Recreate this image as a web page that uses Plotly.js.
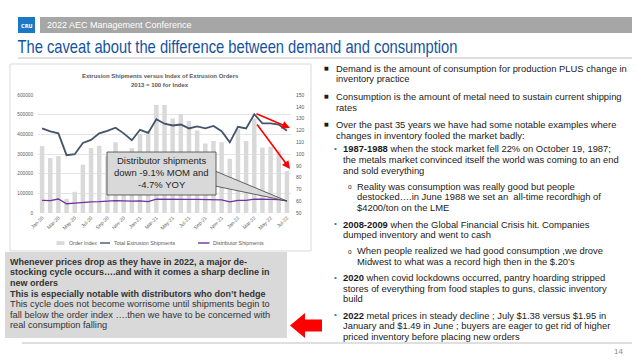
<!DOCTYPE html>
<html><head><meta charset="utf-8">
<script src="https://cdn.plot.ly/plotly-3.0.1.min.js"></script>
<style>html,body{margin:0;padding:0;background:#fff;overflow:hidden}#chart{width:644px;height:362px}</style>
</head><body><div id="chart"></div>
<script>
// ---- data ----
const months = ['Jan-20','Feb-20','Mar-20','Apr-20','May-20','Jun-20','Jul-20','Aug-20','Sep-20','Oct-20','Nov-20','Dec-20',
  'Jan-21','Feb-21','Mar-21','Apr-21','May-21','Jun-21','Jul-21','Aug-21','Sep-21','Oct-21','Nov-21','Dec-21',
  'Jan-22','Feb-22','Mar-22','Apr-22','May-22','Jun-22','Jul-22'];
const orderIndex = [106.7, 96.5, 98.2, 62, 68, 91, 105, 107, 98, 110, 96, 105, 117, 119, 141.5, 141.5, 130, 134, 128, 120, 109, 111, 110, 96, 121, 111, 130, 105.5, 106, 103, 85.5];
const totalShipments = [430000, 415000, 405000, 294000, 299000, 356000, 372000, 405000, 418000, 434000, 405000, 370000, 423000, 407000, 477000, 454000, 445000, 450000, 430000, 440000, 430000, 443000, 416000, 359000, 438000, 430000, 502000, 456000, 456000, 450000, 418000];
const distributorShipments = [64000, 63000, 71000, 47000, 50000, 55000, 57000, 58000, 62000, 63000, 62000, 60000, 62000, 58000, 70000, 69000, 69000, 70000, 69000, 69000, 69000, 68000, 67000, 57000, 64000, 64000, 70000, 71000, 70000, 68000, 62000];
const seriesNames = ['Order Index', 'Total Extrusion Shipments', 'Distributor Shipments'];
const seriesColors = ['#d9d9d9', '#44546a', '#7030a0'];
const chartTitle = 'Extrusion Shipments versus Index of Extrusion Orders';
const chartSubtitle = '2013 = 100 for Index';
const calloutLines = ['Distributor shipments', 'down -9.1% MOM and', '-4.7% YOY'];
const slideTitle = 'The caveat about the difference between demand and consumption';
const headerText = '2022 AEC Management Conference';
const leftBoxLines = [
  ['Whenever prices drop as they have in 2022, a major de-', true],
  ['stocking cycle occurs….and with it comes a sharp decline in', true],
  ['new orders', true],
  ['This is especially notable with distributors who don’t hedge', true],
  ['This cycle does not become worrisome until shipments begin to', false],
  ['fall below the order index ….then we have to be concerned with', false],
  ['real consumption falling', false]
];
// [text, bullet type (0 = continuation), indent level]
const bulletLines = [
  ['Demand is the amount of consumption for production PLUS change in', 1, 1],
  ['inventory practice', 0, 1],
  ['Consumption is the amount of metal need to sustain current shipping', 1, 1],
  ['rates', 0, 1],
  ['Over the past 35 years we have had some notable examples where', 1, 1],
  ['changes in inventory fooled the market badly:', 0, 1],
  ['<b>1987-1988</b> when the stock market fell 22% on October 19, 1987;', 2, 2],
  ['the metals market convinced itself the world was coming to an end', 0, 2],
  ['and sold everything', 0, 2],
  ['Reality was consumption was really good but people', 3, 3],
  ['destocked….in June 1988 we set an  all-time recordhigh of', 0, 3],
  ['$4200/ton on the LME', 0, 3],
  ['<b>2008-2009</b> when the Global Financial Crisis hit. Companies', 2, 2],
  ['dumped inventory and went to cash', 0, 2],
  ['When people realized we had good consumption ,we drove', 3, 3],
  ['Midwest to what was a record high then in the $.20’s', 0, 3],
  ['<b>2020</b> when covid lockdowns occurred, pantry hoarding stripped', 2, 2],
  ['stores of everything from food staples to guns, classic inventory', 0, 2],
  ['build', 0, 2],
  ['<b>2022</b> metal prices in steady decline ; July $1.38 versus $1.95 in', 2, 2],
  ['January and $1.49 in June ; buyers are eager to get rid of higher', 0, 2],
  ['priced inventory before placing new orders', 0, 2]
];

// ---- layout helpers (pixel -> paper) ----
const W = 644, H = 362, ML = 38, MR = 353, MT = 95, MB = 149;
const PW = W - ML - MR, PH = H - MT - MB;
const X = px => (px - ML) / PW;
const Y = py => (H - MB - py) / PH;
const FONT = 'Liberation Sans, Arial, sans-serif';

const traces = [
  {type: 'bar', x: months, y: orderIndex, name: seriesNames[0], yaxis: 'y',
   marker: {color: seriesColors[0]}, width: 0.55},
  {type: 'scatter', mode: 'lines', x: months, y: totalShipments, name: seriesNames[1], yaxis: 'y2',
   line: {color: seriesColors[1], width: 1.8}},
  {type: 'scatter', mode: 'lines', x: months, y: distributorShipments, name: seriesNames[2], yaxis: 'y2',
   line: {color: seriesColors[2], width: 1.3}}
];

const ann = [];
const A = (o) => ann.push(Object.assign({xref: 'paper', yref: 'paper', showarrow: false, xanchor: 'left', yanchor: 'middle'}, o));

// header
A({x: X(45), y: Y(25), text: headerText, font: {family: FONT, size: 9, color: '#ffffff'}});
A({x: X(26.5), y: Y(25.5), xanchor: 'center', text: '<b>CRU</b>', font: {family: 'DejaVu Sans Condensed, Liberation Sans, sans-serif', size: 5.5, color: '#ffffff'}});
A({x: X(237.5), y: Y(46.5), xanchor: 'center', text: slideTitle, font: {family: FONT, size: 18.5, color: '#1553a1'}});
// chart titles
A({x: X(160), y: Y(75.5), xanchor: 'center', text: '<b>' + chartTitle + '</b>', font: {family: FONT, size: 6, color: '#595959'}});
A({x: X(160), y: Y(85), xanchor: 'center', text: '<b>' + chartSubtitle + '</b>', font: {family: FONT, size: 6, color: '#595959'}});
// legend texts
const legendTextX = [67, 112, 211];
seriesNames.forEach((n, i) => A({x: X(legendTextX[i]), y: Y(243), text: n, font: {family: FONT, size: 5.3, color: '#595959'}}));
// callout text
const calloutY = [160, 172.5, 184.5];
calloutLines.forEach((t, i) => A({x: X(161.5), y: Y(calloutY[i]), xanchor: 'center', text: t, font: {family: FONT, size: 9.5, color: '#262626'}}));
// red arrows in chart
ann.push({xref: 'paper', yref: 'paper', x: X(290), y: Y(128), ax: -35, ay: -15, text: '', showarrow: true,
  arrowhead: 2, arrowsize: 1, arrowwidth: 1.6, arrowcolor: '#ff0000', standoff: 0, startstandoff: 0});
ann.push({xref: 'paper', yref: 'paper', x: X(290), y: Y(169), ax: -34, ay: -46, text: '', showarrow: true,
  arrowhead: 2, arrowsize: 1, arrowwidth: 1.6, arrowcolor: '#ff0000', standoff: 0, startstandoff: 0});
// left box text
const leftY = [261.5, 272.3, 283, 293.6, 304.2, 314.7, 325.3];
leftBoxLines.forEach((l, i) => A({x: X(8), y: Y(leftY[i]), text: l[1] ? '<b>' + l[0] + '</b>' : l[0], font: {family: FONT, size: l[1] ? 9 : 9.25, color: '#333333'}}));
// bullets
const bulletY = [68, 79, 96.5, 107, 124, 135, 148.5, 159.5, 170.5, 186, 196.7, 207.5, 224, 234.5, 250.5, 261, 277.5, 288, 298.5, 315, 325.5, 336];
const textX = {1: 334, 2: 340.5, 3: 355};
const markX = {1: 322, 2: 331.5, 3: 346};
bulletLines.forEach((l, i) => {
  A({x: X(textX[l[2]]), y: Y(bulletY[i]), text: l[0], font: {family: FONT, size: 9.4, color: '#1a1a1a'}});
  if (l[1] === 1) A({x: X(markX[1]), y: Y(bulletY[i] - 0.5), text: '■', font: {family: 'DejaVu Sans, sans-serif', size: 5, color: '#1a1a1a'}});
  if (l[1] === 2) A({x: X(markX[2]), y: Y(bulletY[i] - 0.5), text: '•', font: {family: FONT, size: 8, color: '#2e75c6'}});
  if (l[1] === 3) A({x: X(markX[3]), y: Y(bulletY[i] + 0.5), text: 'o', font: {family: FONT, size: 6.5, color: '#1a1a1a'}});
});
A({x: X(625), y: Y(351), xanchor: 'right', text: '14', font: {family: FONT, size: 8, color: '#8c8c8c'}});

const r = (x0, y0, x1, y1, o) => Object.assign({type: 'rect', xref: 'paper', yref: 'paper', x0: X(x0), x1: X(x1), y0: Y(y0), y1: Y(y1)}, o);
const ln = (x0, y0, x1, y1, o) => Object.assign({type: 'line', xref: 'paper', yref: 'paper', x0: X(x0), x1: X(x1), y0: Y(y0), y1: Y(y1)}, o);
const path = (pts, o) => Object.assign({type: 'path', xref: 'paper', yref: 'paper',
  path: 'M' + pts.map(p => X(p[0]).toFixed(5) + ',' + Y(p[1]).toFixed(5)).join('L') + 'Z'}, o);

const shapes = [
  r(40, 17, 632, 33, {fillcolor: '#a6a6a6', line: {width: 0}, layer: 'below'}),
  r(18, 17, 35, 33, {fillcolor: '#1b78c2', line: {width: 0}, layer: 'below'}),
  ln(18, 58, 632, 58, {line: {color: '#bfbfbf', width: 1}, layer: 'below'}),
  r(10, 64, 311, 251, {line: {color: '#d9d9d9', width: 1}, layer: 'below'}),
  // legend swatches
  r(56.5, 241.2, 64.5, 245, {fillcolor: seriesColors[0], line: {width: 0}, layer: 'below'}),
  ln(100, 243, 110, 243, {line: {color: seriesColors[1], width: 1.4}, layer: 'below'}),
  ln(198, 243, 209.5, 243, {line: {color: seriesColors[2], width: 1.4}, layer: 'below'}),
  r(5, 252, 287, 338, {fillcolor: '#d9d9d9', line: {width: 0}, layer: 'below'}),
  ln(22, 343, 632, 343, {line: {color: '#bfbfbf', width: 1}, layer: 'below'}),
  path([[290, 325.5], [305, 313], [305, 319.5], [322, 319.5], [322, 331.5], [305, 331.5], [305, 338]], {fillcolor: '#ff0000', line: {width: 0}, layer: 'above'}),
  path([[215, 171], [287, 201], [215, 186]], {fillcolor: '#d9d9d9', line: {color: '#404040', width: 0.8}, layer: 'above'}),
  r(107, 152, 216, 195, {fillcolor: '#d9d9d9', line: {color: '#404040', width: 0.8}, layer: 'above'})
];

const layout = {
  width: W, height: H, margin: {l: ML, r: MR, t: MT, b: MB, pad: 0},
  paper_bgcolor: '#ffffff', plot_bgcolor: 'rgba(0,0,0,0)',
  font: {family: FONT, color: '#595959'},
  showlegend: false,
  bargap: 0.45,
  xaxis: {type: 'category', tickmode: 'linear', tick0: 0, dtick: 2, tickangle: -45,
    tickfont: {size: 5, color: '#595959'}, showgrid: false, showline: false, zeroline: false, ticks: '',
    range: [-0.5, 30.5]},
  yaxis: {side: 'right', range: [50, 150], dtick: 10, showgrid: false, zeroline: false, showline: false,
    ticks: '', tickfont: {size: 5, color: '#595959'}, ticklabelstandoff: 4},
  yaxis2: {overlaying: 'y', side: 'left', range: [0, 600000], dtick: 100000, tickformat: 'd',
    showgrid: true, gridcolor: '#d9d9d9', gridwidth: 0.7, zeroline: false, showline: false, ticks: '',
    tickfont: {size: 4.7, color: '#595959'}, ticklabelstandoff: 4},
  shapes: shapes,
  annotations: ann
};
Plotly.newPlot('chart', traces, layout, {staticPlot: true, displayModeBar: false}).then(gd => {
  // condense the slide title to the narrow width of the original slide font
  gd.querySelectorAll('text.annotation-text').forEach(t => {
    if (t.textContent === slideTitle) {
      t.setAttribute('textLength', '440');
      t.setAttribute('lengthAdjust', 'spacingAndGlyphs');
    }
  });
});
</script></body></html>
